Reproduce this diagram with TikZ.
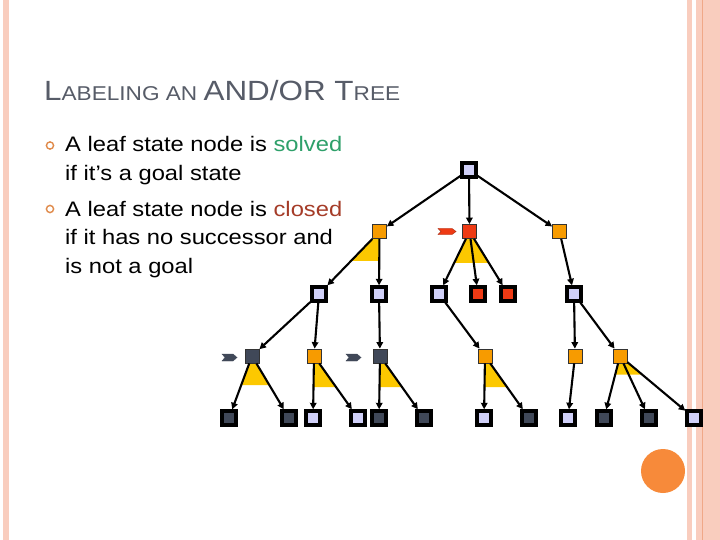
\documentclass[tikz,border=0pt]{standalone}
\usepackage{fontspec}
\usetikzlibrary{arrows.meta,calc}
\newfontfamily\slidefont[FakeStretch=1.13]{Liberation Sans}
\definecolor{stripe}{HTML}{F9CDBE}
\definecolor{stripedark}{HTML}{F0A888}
\definecolor{lav}{HTML}{D0D0F8}
\definecolor{slate}{HTML}{404858}
\definecolor{orng}{HTML}{F79B00}
\definecolor{redn}{HTML}{EE3A14}
\definecolor{yel}{HTML}{FCC800}
\definecolor{titlegray}{HTML}{575C68}
\definecolor{solvedgreen}{HTML}{2EA06A}
\definecolor{closedred}{HTML}{A53C28}
\definecolor{bulletorange}{HTML}{E08A4A}
\definecolor{bigcircle}{HTML}{F78A3A}
\tikzset{
  bigsq/.style={draw=black,line width=3.4pt,minimum size=14pt,inner sep=0pt,rectangle},
  smallsq/.style={draw=black!80,line width=0.8pt,minimum size=14pt,inner sep=0pt,rectangle},
  edge/.style={line width=2.1pt,-{Triangle[length=6.5pt,width=6.5pt]}},
  andtri/.style={fill=yel},
  tag/.style={line width=0.4pt},
  bodytext/.style={anchor=base west,inner sep=0pt,font=\slidefont\fontsize{21}{29}\selectfont},
}
\begin{document}
\begin{tikzpicture}[x=1pt,y=-1pt]
\useasboundingbox (0,0) rectangle (720,540);
\fill[white] (0,0) rectangle (720,540);
% stripes
\fill[stripe] (3,0) rectangle (8.5,540);
\fill[stripe] (687,0) rectangle (692,540);
\fill[stripe] (696,0) rectangle (720,540);
\fill[stripedark] (701.5,0) rectangle (703,540);
% title
\node[anchor=base west,inner sep=0pt,text=titlegray] (title) at (44,101)
  {\slidefont\fontsize{27.8}{28}\selectfont L\fontsize{20}{20}\selectfont ABELING AN \fontsize{27.8}{28}\selectfont AND/OR T\fontsize{20}{20}\selectfont REE};
% bullets
\draw[bulletorange,line width=1.4pt] (50,145.5) circle (3.6);
\draw[bulletorange,line width=1.4pt] (50,209) circle (3.6);
\node[bodytext] (l1) at (65,152) {A leaf state node is \textcolor{solvedgreen}{solved}};
\node[bodytext] (l2) at (65,181) {if it’s a goal state};
\node[bodytext] (l3) at (65,216) {A leaf state node is \textcolor{closedred}{closed}};
\node[bodytext] (l4) at (65,244) {if it has no successor and};
\node[bodytext] (l5) at (65,273) {is not a goal};
% AND triangles (behind nodes)
\fill[andtri] (379.5,231.5) -- ($(379.5,231.5)!0.47!(319,294)$) -- ($(379.5,231.5)!0.47!(379,294)$) -- cycle;
\fill[andtri] (469.5,231.5) -- ($(469.5,231.5)!0.5!(439,294)$) -- ($(469.5,231.5)!0.5!(508,294)$) -- cycle;
\fill[andtri] (252,356) -- ($(252,356)!0.47!(229,418)$) -- ($(252,356)!0.47!(289,418)$) -- cycle;
\fill[andtri] (314,356) -- ($(314,356)!0.5!(313,418)$) -- ($(314,356)!0.5!(358,418)$) -- cycle;
\fill[andtri] (380,356) -- ($(380,356)!0.5!(379,418)$) -- ($(380,356)!0.5!(424,418)$) -- cycle;
\fill[andtri] (485,356) -- ($(485,356)!0.5!(484,418)$) -- ($(485,356)!0.5!(529,418)$) -- cycle;
\fill[andtri] (620,356) -- ($(620,356)!0.3!(604,418)$) -- ($(620,356)!0.3!(694,418)$) -- cycle;
% level 0
\node[bigsq,fill=lav] (root) at (469,170) {};
% level 1
\node[smallsq,fill=orng] (a) at (379.5,231.5) {};
\node[smallsq,fill=redn] (b) at (469.5,231.5) {};
\node[smallsq,fill=orng] (c) at (559.5,231.5) {};
% level 2
\node[bigsq,fill=lav] (a1) at (319,294) {};
\node[bigsq,fill=lav] (a2) at (379,294) {};
\node[bigsq,fill=lav] (b1) at (439,294) {};
\node[bigsq,fill=redn] (b2) at (478,294) {};
\node[bigsq,fill=redn] (b3) at (508,294) {};
\node[bigsq,fill=lav] (c1) at (574,294) {};
% level 3
\node[smallsq,fill=slate] (d1) at (252,356) {};
\node[smallsq,fill=orng] (d2) at (314,356) {};
\node[smallsq,fill=slate] (d3) at (380,356) {};
\node[smallsq,fill=orng] (d4) at (485,356) {};
\node[smallsq,fill=orng] (d5) at (575,356) {};
\node[smallsq,fill=orng] (d6) at (620,356) {};
% level 4
\node[bigsq,fill=slate] (e1) at (229,418) {};
\node[bigsq,fill=slate] (e2) at (289,418) {};
\node[bigsq,fill=lav] (e3) at (313,418) {};
\node[bigsq,fill=lav] (e4) at (358,418) {};
\node[bigsq,fill=slate] (e5) at (379,418) {};
\node[bigsq,fill=slate] (e6) at (424,418) {};
\node[bigsq,fill=lav] (e7) at (484,418) {};
\node[bigsq,fill=slate] (e8) at (529,418) {};
\node[bigsq,fill=lav] (e9) at (568,418) {};
\node[bigsq,fill=slate] (e10) at (604,418) {};
\node[bigsq,fill=slate] (e11) at (649,418) {};
\node[bigsq,fill=lav] (e12) at (694,418) {};
% edges
\draw[edge] (root) -- (a);
\draw[edge] (root) -- (b);
\draw[edge] (root) -- (c);
\draw[edge] (a) -- (a1);
\draw[edge] (a) -- (a2);
\draw[edge] (b) -- (b1);
\draw[edge] (b) -- (b2);
\draw[edge] (b) -- (b3);
\draw[edge] (c) -- (c1);
\draw[edge] (a1) -- (d1);
\draw[edge] (a1) -- (d2);
\draw[edge] (a2) -- (d3);
\draw[edge] (b1) -- (d4);
\draw[edge] (c1) -- (d5);
\draw[edge] (c1) -- (d6);
\draw[edge] (d1) -- (e1);
\draw[edge] (d1) -- (e2);
\draw[edge] (d2) -- (e3);
\draw[edge] (d2) -- (e4);
\draw[edge] (d3) -- (e5);
\draw[edge] (d3) -- (e6);
\draw[edge] (d4) -- (e7);
\draw[edge] (d4) -- (e8);
\draw[edge] (d5) -- (e9);
\draw[edge] (d6) -- (e10);
\draw[edge] (d6) -- (e11);
\draw[edge] (d6) -- (e12);
% markers
\filldraw[tag,fill=redn,draw=redn!70!black] (438,228.5) -- (452,228.5) -- (456,231.5) -- (452,234.5) -- (438,234.5) -- (441,231.5) -- cycle;
\filldraw[tag,fill=slate,draw=slate] (222,354) -- (233,354) -- (237,357.5) -- (233,361) -- (222,361) -- (225,357.5) -- cycle;
\filldraw[tag,fill=slate,draw=slate] (346,354) -- (357,354) -- (361,357.5) -- (357,361) -- (346,361) -- (349,357.5) -- cycle;
% big circle
\node[circle,fill=bigcircle,minimum size=44pt,inner sep=0pt] (dot) at (663,471) {};
\end{tikzpicture}
\end{document}
